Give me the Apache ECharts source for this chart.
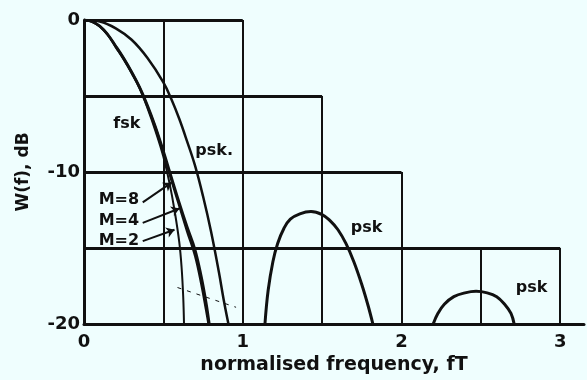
<!DOCTYPE html>
<html>
<head>
<meta charset="utf-8">
<script src="https://cdn.jsdelivr.net/npm/echarts@6/dist/echarts.min.js"></script>
<style>
  html, body { margin: 0; padding: 0; background: #effefe; }
  #chart { width: 587px; height: 380px; }
</style>
</head>
<body>
<div id="chart"></div>
<script>
// Power spectral density W(f) against normalised frequency fT

// psk: main lobe and the two sidelobes that rise above -20 dB
const pskMain = [[0,0],[0.1,-0.1],[0.2,-0.55],[0.3,-1.3],[0.4,-2.5],[0.5,-4.1],[0.55,-5.2],
  [0.6,-6.5],[0.65,-8.0],[0.7,-9.6],[0.75,-11.6],[0.8,-13.9],[0.85,-16.6],[0.88,-18.4],[0.91,-20]];
const pskLobe2 = [[1.14,-20],[1.16,-17.8],[1.19,-15.9],[1.22,-14.7],[1.26,-13.7],[1.3,-13.1],
  [1.36,-12.75],[1.43,-12.6],[1.5,-12.8],[1.55,-13.2],[1.6,-13.8],[1.65,-14.7],
  [1.7,-15.9],[1.75,-17.4],[1.79,-18.8],[1.82,-20]];
const pskLobe3 = [[2.2,-20],[2.23,-19.3],[2.27,-18.7],[2.33,-18.2],[2.4,-17.95],
  [2.47,-17.85],[2.54,-17.95],[2.6,-18.2],[2.65,-18.7],[2.69,-19.3],[2.71,-20]];

// fsk for alphabet sizes M = 8, 4, 2
const fskM8 = [[0,0],[0.05,-0.1],[0.1,-0.45],[0.15,-1.0],[0.2,-1.8],[0.25,-2.6],[0.3,-3.5],
  [0.35,-4.5],[0.4,-5.8],[0.45,-7.3],[0.5,-9.0],[0.54,-10.8],[0.57,-12.5],[0.6,-14.6],
  [0.615,-16.3],[0.625,-18.2],[0.63,-20]];
const fskM4 = [[0,0],[0.05,-0.1],[0.1,-0.42],[0.15,-0.97],[0.2,-1.75],[0.25,-2.55],[0.3,-3.45],
  [0.35,-4.45],[0.4,-5.7],[0.45,-7.1],[0.5,-8.75],[0.55,-10.5],[0.6,-12.2],[0.65,-13.9],
  [0.7,-15.5],[0.74,-17.4],[0.77,-19.1],[0.785,-20]];
const fskM2 = [[0,0],[0.05,-0.1],[0.1,-0.4],[0.15,-0.95],[0.2,-1.7],[0.25,-2.5],[0.3,-3.4],
  [0.35,-4.4],[0.4,-5.6],[0.45,-7.0],[0.5,-8.6],[0.55,-10.3],[0.6,-12.0],[0.65,-13.6],
  [0.7,-15.1],[0.74,-16.9],[0.77,-18.6],[0.79,-20]];

// stepped grid: horizontal rules [level dB, right end fT], vertical rules [fT, top dB]
const gridRows = [[0, 1], [-5, 1.5], [-10, 2], [-15, 3]];
const gridCols = [[0.5, 0], [1, 0], [1.5, -5], [2, -10], [2.5, -15], [3, -15]];

const xTicks = [0, 1, 2, 3];
const yTicks = [0, -10, -20];

// text annotations [text, fT, dB]
const notes = [['fsk', 0.27, -6.8], ['psk.', 0.82, -8.6], ['M=8', 0.22, -11.8],
  ['M=4', 0.22, -13.2], ['M=2', 0.22, -14.5], ['psk', 1.78, -13.7], ['psk', 2.82, -17.6]];
// leader arrows [from fT, from dB, to fT, to dB]
const leaders = [[0.37, -12.0, 0.551, -10.7], [0.37, -13.35, 0.601, -12.4],
  [0.37, -14.55, 0.57, -13.8]];
const dashedNote = [0.589, -17.6, 0.958, -18.9];

const ink = '#111';
const font = 'DejaVu Sans';

const gridLines = [];
gridRows.forEach(([y, x1]) => gridLines.push([{ coord: [0, y], lineStyle: { width: 3 } }, { coord: [x1, y] }]));
gridCols.forEach(([x, y0]) => gridLines.push([{ coord: [x, y0] }, { coord: [x, -20] }]));

function curve(data, width) {
  return {
    type: 'line', data, showSymbol: false, smooth: 0.4, silent: true,
    lineStyle: { color: ink, width }, z: 5
  };
}

const chart = echarts.init(document.getElementById('chart'), null, { renderer: 'canvas' });
chart.setOption({
  backgroundColor: '#effefe',
  animation: false,
  grid: { left: 84, right: 0, top: 20, bottom: 56 },
  xAxis: {
    type: 'value', min: 0, max: 3.15, interval: 1,
    name: 'normalised frequency, fT', nameLocation: 'middle', nameGap: 30,
    nameTextStyle: { color: ink, fontFamily: font, fontSize: 19, fontWeight: 'bold' },
    axisLine: { onZero: false, lineStyle: { color: ink, width: 3 } },
    axisTick: { show: false }, splitLine: { show: false },
    axisLabel: {
      color: ink, fontFamily: font, fontSize: 18, fontWeight: 'bold', margin: 9,
      formatter: v => xTicks.includes(v) ? String(v) : ''
    }
  },
  yAxis: {
    type: 'value', min: -20, max: 0, interval: 10,
    name: 'W(f), dB', nameLocation: 'middle', nameGap: 52, nameRotate: 90,
    nameTextStyle: { color: ink, fontFamily: font, fontSize: 17, fontWeight: 'bold' },
    axisLine: { show: true, onZero: false, lineStyle: { color: ink, width: 3 } },
    axisTick: { show: false }, splitLine: { show: false },
    axisLabel: {
      color: ink, fontFamily: font, fontSize: 18, fontWeight: 'bold', margin: 4,
      formatter: v => yTicks.includes(v) ? String(v) : ''
    }
  },
  series: [
    {
      type: 'line', data: [], silent: true,
      markLine: {
        silent: true, symbol: 'none', label: { show: false },
        lineStyle: { color: ink, width: 2, type: 'solid' },
        data: gridLines
      }
    },
    {
      type: 'line', data: [], silent: true,
      markLine: {
        silent: true, symbol: ['none', 'arrow'], symbolSize: 8, label: { show: false },
        lineStyle: { color: ink, width: 2, type: 'solid' },
        data: leaders.map(([a, b, c, d]) => [{ coord: [a, b] }, { coord: [c, d] }])
      }
    },
    {
      type: 'line', data: [], silent: true,
      markLine: {
        silent: true, symbol: 'none', label: { show: false },
        lineStyle: { color: ink, width: 1, type: [4, 6] },
        data: [[{ coord: [dashedNote[0], dashedNote[1]] }, { coord: [dashedNote[2], dashedNote[3]] }]]
      },
      markPoint: {
        silent: true, symbol: 'circle', symbolSize: 0,
        label: { show: true, color: ink, fontFamily: font, fontSize: 16, fontWeight: 'bold',
                 position: 'inside', formatter: p => p.name },
        data: notes.map(([t, x, y]) => ({ name: t, coord: [x, y] }))
      }
    },
    curve(pskMain, 2.5),
    curve(pskLobe2, 3),
    curve(pskLobe3, 3),
    curve(fskM8, 2),
    curve(fskM4, 2.5),
    curve(fskM2, 2.5)
  ]
});
</script>
</body>
</html>
